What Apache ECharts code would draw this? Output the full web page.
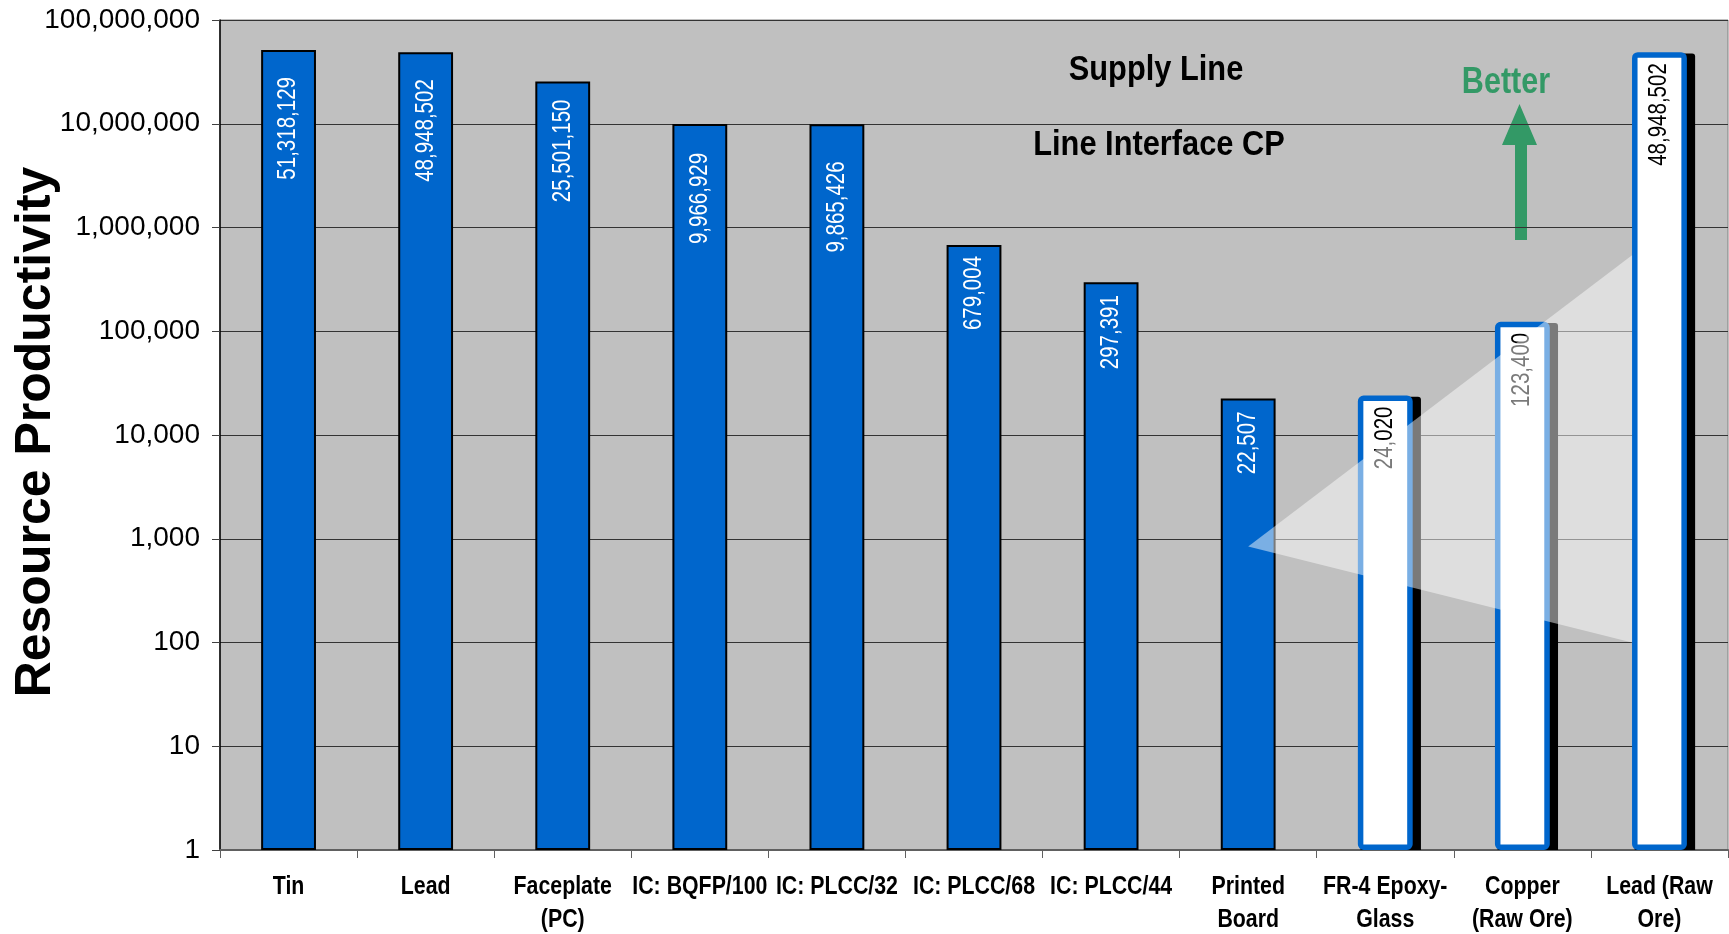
<!DOCTYPE html>
<html>
<head>
<meta charset="utf-8">
<title>Resource Productivity – Supply Line</title>
<script src="https://cdn.jsdelivr.net/npm/echarts@6/dist/echarts.min.js"></script>
<style>
  html, body { margin: 0; padding: 0; background: #ffffff; }
  #chart { width: 1729px; height: 934px; }
</style>
</head>
<body>
<div id="chart"></div>
<script>
// Supply-line materials and parts, plotted on a log scale
const categories = [
  'Tin', 'Lead', 'Faceplate\n(PC)', 'IC: BQFP/100', 'IC: PLCC/32', 'IC: PLCC/68',
  'IC: PLCC/44', 'Printed\nBoard', 'FR-4 Epoxy-\nGlass', 'Copper\n(Raw Ore)', 'Lead (Raw\nOre)'
];
const productivity = [
  51318129, 48948502, 25501150, 9966929, 9865426, 679004,
  297391, 22507, 24020, 123400, 48948502
];
// Raw inputs drawn as outlined bars
const rawInputs = ['FR-4 Epoxy-\nGlass', 'Copper\n(Raw Ore)', 'Lead (Raw\nOre)'];
// Decade ticks of the value axis
const yTicks = [1, 10, 100, 1000, 10000, 100000, 1000000, 10000000, 100000000];
// Spotlight wedge: from the printed board out to the raw lead ore
const spotlightApex = ['Printed\nBoard', 840];
const spotlightEnd = ['Lead (Raw\nOre)', 540000, 100];

// Per-bar spacing between bar top and its value label (px)
const labelGap = [27, 27, 18, 29, 37, 11, 13, 13, 11, 11, 11];

const SANS = '"Liberation Sans", Arial, sans-serif';
const BLUE = '#0066cc';
const GREEN = '#339966';
const BAR_FRACTION = 0.4;
const RAW_BORDER = 5.5;
const NARROW = 0.82;   // horizontal squeeze for the condensed lettering

const fmt = v => Number(v).toLocaleString('en-US');
const isRaw = i => rawInputs.includes(categories[i]);

const barData = productivity.map((v, i) => ({
  value: v,
  itemStyle: isRaw(i)
    ? { color: '#ffffff', borderColor: BLUE, borderWidth: RAW_BORDER, borderRadius: 3 }
    : { color: BLUE, borderColor: '#000000', borderWidth: 2 }
}));
const pointData = productivity.map((v, i) => [i, v]);

const chart = echarts.init(document.getElementById('chart'), null, { renderer: 'canvas' });

chart.setOption({
  animation: false,
  backgroundColor: '#ffffff',
  grid: {
    left: 220, right: 1, top: 20, bottom: 84,
    show: true, backgroundColor: '#c0c0c0', borderColor: '#808080', borderWidth: 1
  },
  xAxis: {
    type: 'category',
    data: categories,
    boundaryGap: true,
    axisLine: { lineStyle: { color: '#606060', width: 2 } },
    axisTick: { show: true, length: 8, lineStyle: { color: '#606060', width: 1 } },
    axisLabel: { show: false }
  },
  yAxis: {
    type: 'log',
    logBase: 10,
    min: yTicks[0],
    max: yTicks[yTicks.length - 1],
    interval: 1,
    axisLine: { show: true, lineStyle: { color: '#000000', width: 1.5 } },
    axisTick: { show: true, length: 8, lineStyle: { color: '#404040' } },
    minorTick: { show: false },
    splitLine: { show: true, lineStyle: { color: '#333333', width: 1 } },
    axisLabel: {
      margin: 20, color: '#000000', fontSize: 28, fontFamily: SANS,
      formatter: v => fmt(v)
    }
  },
  series: [
    {
      // drop shadows behind the outlined raw-input bars
      type: 'custom',
      z: 1,
      clip: true,
      silent: true,
      data: pointData,
      renderItem: (params, api) => {
        const i = params.dataIndex;
        if (!isRaw(i)) return null;
        const [cx, top] = api.coord([i, api.value(1)]);
        const base = api.coord([i, yTicks[0]])[1];
        const w = api.size([1, 0])[0] * BAR_FRACTION + RAW_BORDER;
        return {
          type: 'rect',
          shape: { x: cx - w / 2 + 5.5, y: top - RAW_BORDER / 2 + 4, width: w, height: base - top + RAW_BORDER, r: 3 },
          style: { fill: '#000000' }
        };
      }
    },
    {
      type: 'bar',
      data: barData,
      barWidth: (BAR_FRACTION * 100) + '%',
      z: 2,
      label: { show: false }
    },
    {
      // value labels, running upward inside each bar
      type: 'custom',
      z: 3,
      clip: false,
      silent: true,
      data: pointData,
      renderItem: (params, api) => {
        const i = params.dataIndex;
        const v = api.value(1);
        const [cx, top] = api.coord([i, v]);
        return {
          type: 'text',
          x: cx, y: top + labelGap[i],
          rotation: Math.PI / 2,
          scaleX: NARROW,
          style: {
            text: fmt(v), align: 'right', verticalAlign: 'middle',
            font: '25px ' + SANS, fill: isRaw(i) ? '#000000' : '#ffffff'
          }
        };
      }
    },
    {
      // category names under the axis
      type: 'custom',
      z: 3,
      clip: false,
      silent: true,
      data: pointData,
      renderItem: (params, api) => {
        const i = params.dataIndex;
        const [cx, base] = api.coord([i, yTicks[0]]);
        return {
          type: 'text',
          x: cx, y: base + 20,
          scaleX: NARROW,
          style: {
            text: categories[i], align: 'center', verticalAlign: 'top',
            font: 'bold 26px ' + SANS, lineHeight: 33, fill: '#000000'
          }
        };
      }
    },
    {
      // translucent spotlight wedge laid over the bars and their labels
      type: 'custom',
      z: 10,
      silent: true,
      clip: false,
      data: [[categories.indexOf(spotlightApex[0]), spotlightApex[1]]],
      renderItem: (params, api) => {
        const apex = api.coord([categories.indexOf(spotlightApex[0]), spotlightApex[1]]);
        const endIdx = categories.indexOf(spotlightEnd[0]);
        const top = api.coord([endIdx, spotlightEnd[1]]);
        const bot = api.coord([endIdx, spotlightEnd[2]]);
        const half = api.size([1, 0])[0] * BAR_FRACTION / 2;
        return {
          type: 'polygon',
          shape: { points: [apex, [top[0] - half, top[1]], [bot[0] - half, bot[1]]] },
          style: { fill: 'rgba(255,255,255,0.48)' }
        };
      }
    }
  ],
  graphic: [
    {
      type: 'text', x: 36, y: 432, rotation: Math.PI / 2,
      style: {
        text: 'Resource Productivity', align: 'center', verticalAlign: 'middle',
        font: 'bold 50px ' + SANS, fill: '#000000'
      }
    },
    {
      type: 'text', x: 1156, y: 70, scaleX: 0.88,
      style: { text: 'Supply Line', align: 'center', verticalAlign: 'middle',
               font: 'bold 35px ' + SANS, fill: '#000000' }
    },
    {
      type: 'text', x: 1159, y: 145, scaleX: 0.88,
      style: { text: 'Line Interface CP', align: 'center', verticalAlign: 'middle',
               font: 'bold 35px ' + SANS, fill: '#000000' }
    },
    {
      type: 'text', x: 1506, y: 83, scaleX: 0.85,
      style: { text: 'Better', align: 'center', verticalAlign: 'middle',
               font: 'bold 36px ' + SANS, fill: GREEN }
    },
    {
      type: 'polygon',
      shape: { points: [[1515, 240], [1527, 240], [1527, 145], [1537, 145],
                        [1519.5, 104], [1502, 145], [1515, 145]] },
      style: { fill: GREEN }
    }
  ]
});
</script>
</body>
</html>
